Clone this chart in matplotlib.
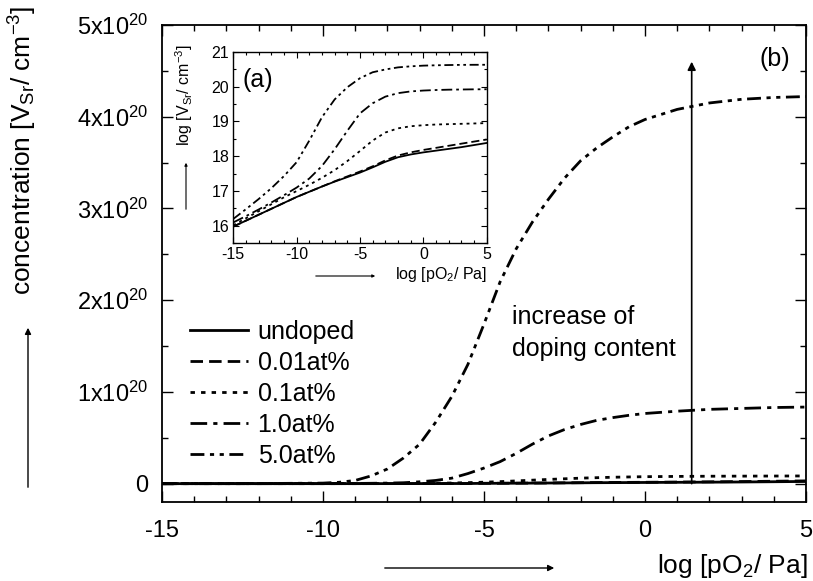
import matplotlib
matplotlib.use("Agg")
import matplotlib.pyplot as plt
from matplotlib.patches import FancyArrowPatch
from matplotlib.ticker import MultipleLocator, FixedLocator

plt.rcParams['font.family'] = ['Liberation Sans', 'DejaVu Sans']
plt.rcParams['mathtext.fontset'] = 'custom'
plt.rcParams['mathtext.rm'] = 'Liberation Sans'
plt.rcParams['mathtext.it'] = 'Liberation Sans:italic'
plt.rcParams['mathtext.default'] = 'regular'

# ---------------- data ----------------
labels = ["undoped", "0.01at%", "0.1at%", "1.0at%", "5.0at%"]

# main panel (b): concentration in units of 1e20 cm^-3
x_main = [-15, -12, -10, -9.5, -9, -8.5, -8, -7.5, -7, -6.5, -6, -5.5, -5, -4.5, -4,
          -3.5, -3, -2.5, -2, -1.5, -1, -0.5, 0, 1, 2, 3, 4, 5]
main_undoped = [0, 0, 0.0001, 0.00015, 0.0002, 0.0003, 0.0004, 0.0005, 0.0007, 0.0009,
                0.0012, 0.0016, 0.0034, 0.0040, 0.0048, 0.0058, 0.0069, 0.0080, 0.0093,
                0.0105, 0.0112, 0.0120, 0.0129, 0.0145, 0.0162, 0.0182, 0.0209, 0.0240]
main_001 = [0, 0, 0.0001, 0.00015, 0.0002, 0.0003, 0.0004, 0.0005, 0.0007, 0.0009,
            0.0013, 0.0017, 0.0036, 0.0043, 0.0051, 0.0063, 0.0076, 0.0090, 0.0105,
            0.0118, 0.0129, 0.0140, 0.0151, 0.0174, 0.0200, 0.0229, 0.0263, 0.0302]
main_01 = [0, 0, 0.0001, 0.00015, 0.0002, 0.0003, 0.0005, 0.001, 0.002, 0.004, 0.007,
           0.011, 0.016, 0.022, 0.030, 0.038, 0.046, 0.053, 0.060, 0.065, 0.070, 0.073,
           0.076, 0.079, 0.081, 0.082, 0.083, 0.084]
main_10 = [0, 0.0002, 0.001, 0.0015, 0.002, 0.004, 0.006, 0.010, 0.020, 0.035, 0.060,
           0.110, 0.170, 0.240, 0.330, 0.430, 0.520, 0.590, 0.645, 0.690, 0.720, 0.745,
           0.765, 0.790, 0.810, 0.820, 0.830, 0.835]
main_50 = [0, 0.001, 0.006, 0.015, 0.035, 0.085, 0.160, 0.280, 0.430, 0.670, 0.950,
           1.300, 1.740, 2.200, 2.560, 2.850, 3.100, 3.330, 3.520, 3.660, 3.780, 3.890,
           3.970, 4.080, 4.150, 4.190, 4.210, 4.220]

# inset (a): log10 concentration
x_in = [-15, -14, -13, -12, -11, -10, -9, -8, -7, -6, -5, -4, -3, -2, -1, 0, 1, 2, 3, 4, 5]
log_undoped = [15.98, 16.15, 16.32, 16.49, 16.66, 16.83, 16.98, 17.13, 17.27, 17.40,
               17.53, 17.68, 17.84, 17.97, 18.05, 18.11, 18.16, 18.21, 18.26, 18.32, 18.38]
log_001 = [15.98, 16.15, 16.32, 16.49, 16.66, 16.83, 16.98, 17.13, 17.28, 17.42,
           17.56, 17.71, 17.88, 18.02, 18.11, 18.18, 18.24, 18.30, 18.36, 18.42, 18.48]
log_01 = [16.02, 16.22, 16.42, 16.62, 16.82, 17.00, 17.18, 17.38, 17.60, 17.86,
          18.15, 18.45, 18.68, 18.80, 18.86, 18.89, 18.91, 18.92, 18.93, 18.94, 18.95]
log_10 = [16.10, 16.28, 16.47, 16.67, 16.88, 17.10, 17.36, 17.72, 18.20, 18.73,
          19.23, 19.52, 19.71, 19.81, 19.86, 19.885, 19.90, 19.91, 19.915, 19.92, 19.922]
log_50 = [16.20, 16.48, 16.77, 17.08, 17.43, 17.83, 18.45, 19.12, 19.63, 19.98,
          20.24, 20.41, 20.49, 20.55, 20.58, 20.60, 20.61, 20.617, 20.622, 20.624, 20.625]

y_ticks_main = [0, 1, 2, 3, 4, 5]
y_ticklabels_main = ["0", "1x10$^{20}$", "2x10$^{20}$", "3x10$^{20}$", "4x10$^{20}$", "5x10$^{20}$"]
x_ticks = [-15, -10, -5, 0, 5]
arrow_x = 1.45
arrow_top = 4.6

# ---------------- styles ----------------
styles = [
    dict(linestyle='-'),
    dict(linestyle=(0, (4.5, 2.2))),
    dict(linestyle=(0, (1.6, 2.2))),
    dict(linestyle=(0, (6, 2.2, 1.5, 2.2))),
    dict(linestyle=(0, (5, 2, 1.5, 2, 1.5, 2))),
]

W, H = 813, 581
fig = plt.figure(figsize=(W / 100, H / 100), dpi=100)

def fx(px):
    return px / W

def fy(py):
    return 1 - py / H

ax = fig.add_axes([fx(162), fy(502), fx(806) - fx(162), fy(25) - fy(502)])
series_main = [main_undoped, main_001, main_01, main_10, main_50]
for ys, lab, st in zip(series_main, labels, styles):
    ax.plot(x_main, ys, color='black', lw=2.0, label=lab, **st)

ax.set_xlim(-15, 5)
ax.set_ylim(-0.2, 5)
ax.xaxis.set_major_locator(FixedLocator(x_ticks))
ax.xaxis.set_minor_locator(MultipleLocator(1))
ax.yaxis.set_major_locator(FixedLocator(y_ticks_main))
ax.set_yticklabels(y_ticklabels_main)
ax.yaxis.set_minor_locator(MultipleLocator(0.5))
ax.set_xticklabels([str(v) for v in x_ticks])
ax.tick_params(which='both', direction='in', top=True, right=True, labelsize=17)
ax.tick_params(which='major', length=8, width=1.0)
ax.tick_params(which='minor', length=4, width=1.0)
ax.tick_params(axis='x', pad=13)
ax.tick_params(axis='y', pad=10)
for s in ax.spines.values():
    s.set_linewidth(1.3)

leg = ax.legend(loc='upper left', bbox_to_anchor=(0.028, 0.4025), frameon=False,
                fontsize=18, handlelength=2.3, handletextpad=0.4, labelspacing=0.28,
                borderaxespad=0, borderpad=0.4)

ax.text(4.5, 4.63, "(b)", ha='right', va='center', fontsize=18)
ax.text(-4.14, 1.816, "increase of", ha='left', va='center', fontsize=18)
ax.text(-4.14, 1.472, "doping content", ha='left', va='center', fontsize=18)
ax.annotate("", xy=(arrow_x, arrow_top), xytext=(arrow_x, 0),
            arrowprops=dict(arrowstyle='-|>', color='black', lw=1.2,
                            mutation_scale=12, shrinkA=0, shrinkB=0))

# y label and x label
fig.text(fx(23), fy(150), "concentration [V$_{Sr}$/ cm$^{-3}$]", rotation=90,
         ha='center', va='center', fontsize=19)
fig.text(fx(808), fy(566), "log [pO$_2$/ Pa]", ha='right', va='center', fontsize=19)
fig.add_artist(FancyArrowPatch((fx(28), fy(490)), (fx(28), fy(325)),
                               transform=fig.transFigure, arrowstyle='-|>',
                               mutation_scale=9, color='black', lw=1.0))
fig.add_artist(FancyArrowPatch((fx(382), fy(568)), (fx(557), fy(568)),
                               transform=fig.transFigure, arrowstyle='-|>',
                               mutation_scale=9, color='black', lw=1.0))

# ---------------- inset ----------------
axi = fig.add_axes([fx(233.3), fy(243.3), fx(486.7) - fx(233.3), fy(51.7) - fy(243.3)])
series_in = [log_undoped, log_001, log_01, log_10, log_50]
for ys, st in zip(series_in, styles):
    axi.plot(x_in, ys, color='black', lw=1.3, **st)
axi.set_xlim(-15, 5)
axi.set_ylim(15.5, 21)
axi.xaxis.set_major_locator(FixedLocator(x_ticks))
axi.xaxis.set_minor_locator(MultipleLocator(1))
axi.yaxis.set_major_locator(MultipleLocator(1))
axi.yaxis.set_minor_locator(MultipleLocator(0.5))
axi.set_xticklabels([str(v) for v in x_ticks])
axi.tick_params(which='both', direction='in', top=True, right=True, labelsize=11.5)
axi.tick_params(which='major', length=4, width=0.8, pad=3)
axi.tick_params(which='minor', length=2, width=0.8)
for s in axi.spines.values():
    s.set_linewidth(1.0)
axi.text(-14.3, 20.2, "(a)", fontsize=18, ha='left', va='center')
fig.text(fx(487), fy(275), "log [pO$_2$/ Pa]", ha='right', va='center', fontsize=11.5)
fig.text(fx(184), fy(95), "log [V$_{Sr}$/ cm$^{-3}$]", rotation=90, ha='center',
         va='center', fontsize=11.5)
fig.add_artist(FancyArrowPatch((fx(186), fy(212)), (fx(186), fy(160)),
                               transform=fig.transFigure, arrowstyle='-|>',
                               mutation_scale=4, color='black', lw=0.8))
fig.add_artist(FancyArrowPatch((fx(313), fy(276)), (fx(378), fy(276)),
                               transform=fig.transFigure, arrowstyle='-|>',
                               mutation_scale=4, color='black', lw=0.8))

fig.savefig("out.png", dpi=100)
